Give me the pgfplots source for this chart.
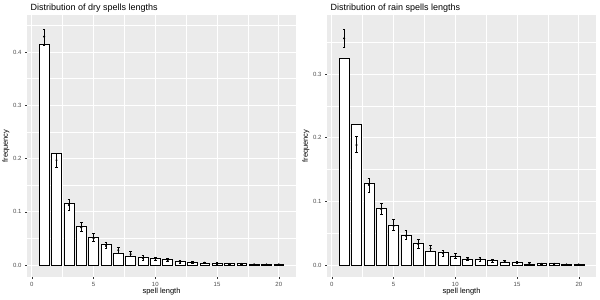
\documentclass[border=0pt]{standalone}
\usepackage{pgfplots}
\usepackage{pgfplotstable}
\pgfplotsset{compat=1.18}
\usepackage{fontspec}
\setmainfont{Liberation Sans}
\definecolor{panelbg}{HTML}{EBEBEB}
\definecolor{tickgray}{HTML}{333333}
\definecolor{labgray}{HTML}{4D4D4D}

\pgfplotstableread{
x bar p ep em
1 0.4144 0.4288 0.0145 0.0163
2 0.2090 0.1970 0.0120 0.0140
3 0.1156 0.1125 0.0105 0.0105
4 0.0730 0.0706 0.0100 0.0081
5 0.0520 0.0500 0.0090 0.0060
6 0.0400 0.0360 0.0065 0.0050
7 0.0230 0.0280 0.0050 0.0050
8 0.0170 0.0206 0.0044 0.0036
9 0.0138 0.0130 0.0045 0.0040
10 0.0125 0.0120 0.0035 0.0035
11 0.0100 0.0094 0.0030 0.0030
12 0.0075 0.0060 0.0025 0.0025
13 0.0056 0.0050 0.0020 0.0020
14 0.0040 0.0045 0.0015 0.0015
15 0.0040 0.0030 0.0015 0.0015
16 0.0025 0.0020 0.0012 0.0012
17 0.0025 0.0020 0.0012 0.0012
18 0.0020 0.0013 0.0010 0.0010
19 0.0020 0.0013 0.0010 0.0010
20 0.0020 0.0013 0.0010 0.0010
}\dry

\pgfplotstableread{
x bar p ep em
1 0.3240 0.3560 0.0150 0.0140
2 0.2204 0.1885 0.0130 0.0121
3 0.1290 0.1260 0.0100 0.0110
4 0.0890 0.0880 0.0090 0.0090
5 0.0620 0.0616 0.0104 0.0066
6 0.0470 0.0460 0.0080 0.0055
7 0.0340 0.0330 0.0075 0.0060
8 0.0220 0.0260 0.0045 0.0050
9 0.0195 0.0184 0.0053 0.0044
10 0.0140 0.0137 0.0043 0.0037
11 0.0095 0.0100 0.0030 0.0032
12 0.0095 0.0090 0.0025 0.0025
13 0.0074 0.0068 0.0020 0.0020
14 0.0047 0.0058 0.0018 0.0018
15 0.0042 0.0037 0.0015 0.0015
16 0.0020 0.0030 0.0012 0.0012
17 0.0026 0.0020 0.0010 0.0010
18 0.0030 0.0020 0.0010 0.0010
19 0.0016 0.0010 0.0008 0.0008
20 0.0016 0.0010 0.0008 0.0008
}\rain

\pgfplotsset{
  every axis title/.style={at={(0,1)}, anchor=base west, yshift=4.5pt, font=\fontsize{9}{10}\selectfont},
  gg/.style={
    scale only axis,
    width=269pt, height=262pt,
    anchor=south west,
    xmin=-0.39, xmax=21.39,
    xtick={0,5,10,15,20},
    minor xtick={2.5,7.5,12.5,17.5},
    grid=both,
    major grid style={white, line width=0.9pt},
    minor grid style={white, line width=0.45pt},
    axis background/.style={fill=panelbg},
    axis line style={draw=none},
    tick align=outside,
    major tick length=2pt,
    minor tick length=0pt,
    tick style={color=tickgray, line width=0.5pt},
    xtick pos=left, ytick pos=left,
    /pgf/number format/assume math mode=true,
    ticklabel style={font=\fontsize{6}{7}\selectfont, color=labgray},
    yticklabel style={/pgf/number format/fixed, /pgf/number format/fixed zerofill, /pgf/number format/precision=1},
    scaled y ticks=false,
    label style={font=\fontsize{7.5}{9}\selectfont},
    xlabel style={at={(axis description cs:0.5,-0.056)}, anchor=center},
    ylabel style={at={(axis description cs:-0.078,0.5)}, anchor=center},
    xlabel={spell length},
    ylabel={frequency},
  },
  barst/.style={ybar, bar width=0.8, fill=white, draw=black, line width=0.55pt},
  errst/.style={only marks, mark=*, mark size=0.8pt, color=black,
    error bars/.cd, y dir=both, y explicit,
    error bar style={line width=0.6pt},
    error mark options={rotate=90, mark size=1.3pt, line width=0.6pt}},
}

\begin{document}
\begin{tikzpicture}
\useasboundingbox (0,0) rectangle (600pt,300pt);
\begin{axis}[gg, at={(27pt,23pt)},
    ymin=-0.02235, ymax=0.4694,
    ytick={0,0.1,0.2,0.3,0.4},
    minor ytick={0.05,0.15,0.25,0.35,0.45},
    title={Distribution of dry spells lengths}]
\addplot[barst] table[x=x, y=bar] {\dry};
\addplot[errst] table[x=x, y=p, y error plus=ep, y error minus=em] {\dry};
\end{axis}
\begin{axis}[gg, at={(327pt,23pt)},
    ymin=-0.0187, ymax=0.3927,
    ytick={0,0.1,0.2,0.3},
    minor ytick={0.05,0.15,0.25,0.35},
    title={Distribution of rain spells lengths}]
\addplot[barst] table[x=x, y=bar] {\rain};
\addplot[errst] table[x=x, y=p, y error plus=ep, y error minus=em] {\rain};
\end{axis}
\end{tikzpicture}
\end{document}
